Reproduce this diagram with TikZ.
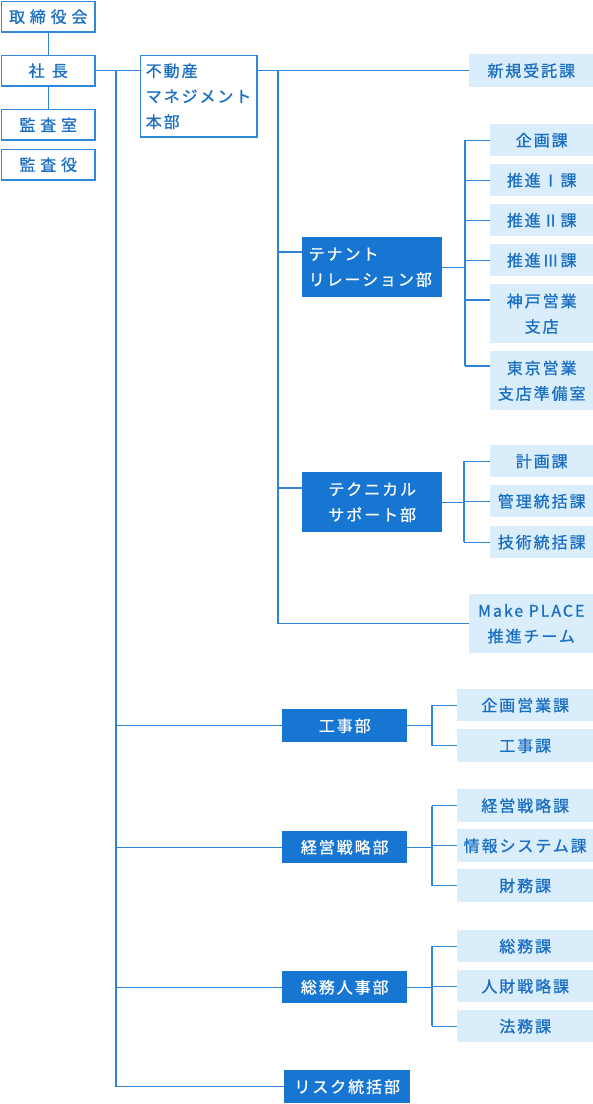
\documentclass[tikz,border=0pt]{standalone}
\usepackage{fontspec}
\setmainfont{Noto Sans CJK JP}
\newfontfamily\jpn[LetterSpace=12,FakeBold=0.9]{Noto Sans CJK JP}
\newfontfamily\jpw[LetterSpace=30,FakeBold=0.9]{Noto Sans CJK JP}
\newfontfamily\jpx[LetterSpace=45,FakeBold=0.9]{Noto Sans CJK JP}
\usetikzlibrary{calc}
\definecolor{dkblue}{HTML}{1676D2}
\definecolor{ltfill}{HTML}{DAEDFA}
\definecolor{txtblue}{HTML}{1A6FC2}
\definecolor{bdr}{HTML}{2F87D8}
\definecolor{lineblue}{HTML}{2E84D6}
\tikzset{
  base/.style={inner sep=0pt, anchor=north west, font=\jpn\fontsize{16}{25.5}\selectfont},
  topbox/.style={base, draw=bdr, line width=1.5pt, fill=white, text=txtblue, minimum width=93.5, minimum height=30.5, font=\jpw\fontsize{16}{25.5}\selectfont},
  dept/.style={base, fill=dkblue, text=white},
  sect/.style={base, fill=ltfill, text=txtblue},
  conn/.style={draw=lineblue, line width=1.4pt}
}
\begin{document}
\begin{tikzpicture}[x=1pt,y=-1pt]
\useasboundingbox (0,0) rectangle (593,1104);
% top-left
\node[topbox] (torishimari) at (0.75,0.75) {取締役会};
\node[topbox, font=\jpx\fontsize{16}{25.5}\selectfont] (shacho) at (0.75,54.75) {社長};
\node[topbox] (kansashitsu) at (0.75,108.75) {監査室};
\node[topbox] (kansayaku) at (0.75,148.75) {監査役};
\node[base, draw=bdr, line width=1.5pt, fill=white, text=txtblue, minimum width=116.5, minimum height=81.5, text width=106, align=left] (fudosan) at (139.75,54.75) {不動産\\マネジメント\\本部};
% second level
\node[sect, minimum width=124, minimum height=33] (shinki) at (469,54) {新規受託課};
\node[dept, minimum width=140, minimum height=60, text width=127, align=left] (tenant) at (302,237) {テナント\\リレーション部};
\node[sect, minimum width=103, minimum height=32] (kikaku) at (490,124) {企画課};
\node[sect, minimum width=103, minimum height=32] (suishin1) at (490,164) {推進Ⅰ課};
\node[sect, minimum width=103, minimum height=32] (suishin2) at (490,204) {推進Ⅱ課};
\node[sect, minimum width=103, minimum height=32] (suishin3) at (490,244) {推進Ⅲ課};
\node[sect, minimum width=103, minimum height=59, align=center] (kobe) at (490,284) {神戸営業\\支店};
\node[sect, minimum width=103, minimum height=59, align=center] (tokyo) at (490,351) {東京営業\\支店準備室};
\node[dept, minimum width=140, minimum height=60, align=center] (technical) at (302,472) {テクニカル\\サポート部};
\node[sect, minimum width=103, minimum height=32] (keikaku) at (490,445) {計画課};
\node[sect, minimum width=103, minimum height=32] (kanri) at (490,485) {管理統括課};
\node[sect, minimum width=103, minimum height=32] (gijutsu) at (490,526) {技術統括課};
\node[sect, minimum width=124, minimum height=59, align=center] (makeplace) at (469,594) {Make PLACE\\推進チーム};
% lower departments
\node[dept, minimum width=125, minimum height=33] (koji) at (282,709) {工事部};
\node[sect, minimum width=136, minimum height=32] (kikakueigyo) at (457,689) {企画営業課};
\node[sect, minimum width=136, minimum height=33] (kojika) at (457,729) {工事課};
\node[dept, minimum width=125, minimum height=32] (keiei) at (282,831) {経営戦略部};
\node[sect, minimum width=136, minimum height=33] (keieika) at (457,789) {経営戦略課};
\node[sect, minimum width=136, minimum height=33] (joho) at (457,829) {情報システム課};
\node[sect, minimum width=136, minimum height=33] (zaimu) at (457,869) {財務課};
\node[dept, minimum width=125, minimum height=32] (somujinji) at (282,971) {総務人事部};
\node[sect, minimum width=136, minimum height=32] (somuka) at (457,930) {総務課};
\node[sect, minimum width=136, minimum height=32] (jinzai) at (457,970) {人財戦略課};
\node[sect, minimum width=136, minimum height=32] (homu) at (457,1010) {法務課};
\node[dept, minimum width=126, minimum height=33] (risk) at (284,1070) {リスク統括部};
% helper coordinates
\coordinate (t1) at (116,0);
\coordinate (t2) at (278,0);
\coordinate (b1) at (465,0);
\coordinate (b2) at (464,0);
\coordinate (b3) at (432,0);
\coordinate (tenantA) at ($(tenant.north west)+(0,15)$);
\coordinate (technicalA) at ($(technical.north west)+(0,16)$);
\coordinate (kobeA) at ($(kobe.north west)+(0,16)$);
\coordinate (tokyoA) at ($(tokyo.north west)+(0,15)$);
% connectors top-left
\draw[conn] (torishimari) -- (shacho);
\draw[conn] (shacho) -- (kansashitsu);
\draw[conn] (shacho.east) -- (fudosan.west |- shacho.east);
\draw[conn] (t1 |- shacho.east) -- (t1 |- risk.west);
\draw[conn] (t1 |- koji.west) -- (koji.west);
\draw[conn] (t1 |- keiei.west) -- (keiei.west);
\draw[conn] (t1 |- somujinji.west) -- (somujinji.west);
\draw[conn] (t1 |- risk.west) -- (risk.west);
% fudosan subtree
\draw[conn] (fudosan.east |- shinki.west) -- (shinki.west);
\draw[conn] (t2 |- shinki.west) -- (t2 |- makeplace.west) -- (makeplace.west);
\draw[conn] (t2 |- tenantA) -- (tenantA);
\draw[conn] (t2 |- technicalA) -- (technicalA);
% tenant bracket
\draw[conn] (tenant.east) -- (b1 |- tenant.east);
\draw[conn] (b1 |- kikaku.west) -- (b1 |- tokyoA);
\draw[conn] (b1 |- kikaku.west) -- (kikaku.west);
\draw[conn] (b1 |- suishin1.west) -- (suishin1.west);
\draw[conn] (b1 |- suishin2.west) -- (suishin2.west);
\draw[conn] (b1 |- suishin3.west) -- (suishin3.west);
\draw[conn] (b1 |- kobeA) -- (kobeA);
\draw[conn] (b1 |- tokyoA) -- (tokyoA);
% technical bracket
\draw[conn] (technical.east) -- (b2 |- technical.east);
\draw[conn] (b2 |- keikaku.west) -- (b2 |- gijutsu.west);
\draw[conn] (b2 |- keikaku.west) -- (keikaku.west);
\draw[conn] (b2 |- kanri.west) -- (kanri.west);
\draw[conn] (b2 |- gijutsu.west) -- (gijutsu.west);
% koji bracket
\draw[conn] (koji.east) -- (b3 |- koji.east);
\draw[conn] (b3 |- kikakueigyo.west) -- (b3 |- kojika.west);
\draw[conn] (b3 |- kikakueigyo.west) -- (kikakueigyo.west);
\draw[conn] (b3 |- kojika.west) -- (kojika.west);
% keiei bracket
\draw[conn] (keiei.east) -- (b3 |- keiei.east);
\draw[conn] (b3 |- keieika.west) -- (b3 |- zaimu.west);
\draw[conn] (b3 |- keieika.west) -- (keieika.west);
\draw[conn] (b3 |- joho.west) -- (joho.west);
\draw[conn] (b3 |- zaimu.west) -- (zaimu.west);
% somujinji bracket
\draw[conn] (somujinji.east) -- (b3 |- somujinji.east);
\draw[conn] (b3 |- somuka.west) -- (b3 |- homu.west);
\draw[conn] (b3 |- somuka.west) -- (somuka.west);
\draw[conn] (b3 |- jinzai.west) -- (jinzai.west);
\draw[conn] (b3 |- homu.west) -- (homu.west);
\end{tikzpicture}
\end{document}
